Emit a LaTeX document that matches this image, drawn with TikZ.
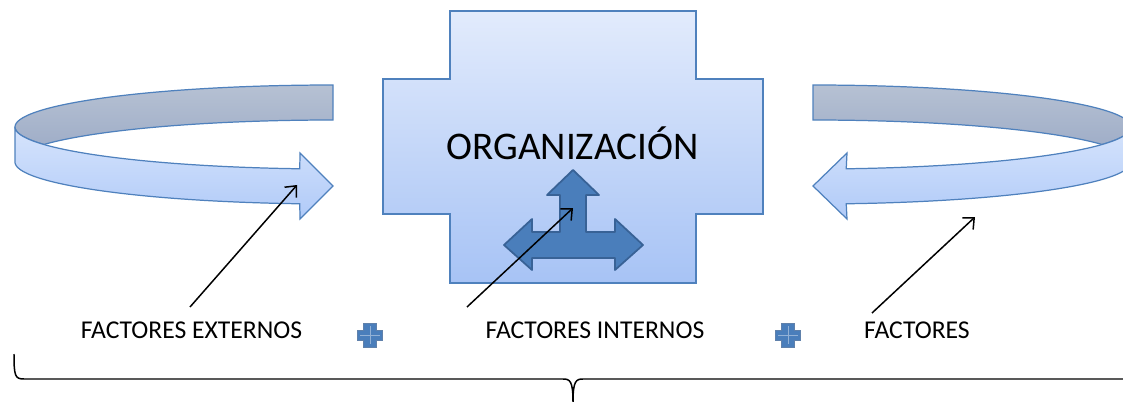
\documentclass[tikz,border=0pt]{standalone}
\usepackage{fontspec}
\setmainfont{Carlito}
\usetikzlibrary{arrows.meta}

\definecolor{edgeblue}{RGB}{79,129,189}
\definecolor{darkblue}{RGB}{56,98,150}
\definecolor{midblue}{RGB}{74,126,187}
\definecolor{frontTop}{RGB}{214,228,252}
\definecolor{frontBot}{RGB}{176,202,248}
\definecolor{backTop}{RGB}{182,193,211}
\definecolor{backBot}{RGB}{160,174,200}

\begin{document}
\begin{tikzpicture}[x=0.02cm,y=-0.02cm,
    bandfront/.style={draw=edgeblue,line width=0.7pt,top color=frontTop,bottom color=frontBot},
    bandback/.style={draw=edgeblue,line width=0.7pt,top color=backTop,bottom color=backBot},
    pointer/.style={line width=0.85pt,-{Straight Barb[length=5pt,width=9pt]}},
    label/.style={anchor=base,inner sep=0pt,font=\fontsize{14.6pt}{14.6pt}\selectfont}]
                  \useasboundingbox (0,0) rectangle (1123,402);
                  \clip (0,0) rectangle (1123,402);
                  % left circular arrow, back then front
                  \path [bandback] plot[domain=270:155.4,samples=60] ({333+318*cos(\x)},{127+42*sin(\x)})
                        -- plot[domain=204.6:270,samples=60] ({333+318*cos(\x)},{162+42*sin(\x)}) -- cycle;
                  \path [bandfront] plot[domain=180:96,samples=60] ({333+318*cos(\x)},{127+42*sin(\x)})
                        -- (300,153) -- (333,186) -- (300,219)
                        -- plot[domain=96:180,samples=60] ({333+318*cos(\x)},{162+42*sin(\x)}) -- cycle;
                  % right circular arrow, back then front
                  \path [bandback] plot[domain=270:384.6,samples=60] ({813+318*cos(\x)},{127+42*sin(\x)})
                        -- plot[domain=335.4:270,samples=60] ({813+318*cos(\x)},{162+42*sin(\x)}) -- cycle;
                  \path [bandfront] plot[domain=0:84,samples=60] ({813+318*cos(\x)},{127+42*sin(\x)})
                        -- (847,153) -- (813,186) -- (847,219)
                        -- plot[domain=84:0,samples=60] ({813+318*cos(\x)},{162+42*sin(\x)}) -- cycle;
                  % organization cross
                  \path [draw=edgeblue,line width=0.7pt,top color={rgb,255:red,226;green,235;blue,252},bottom color={rgb,255:red,167;green,195;blue,245}]
                        (450,11) -- (696,11) -- (696,79) -- (763,79) -- (763,214) -- (696,214) -- (696,283)
                        -- (450,283) -- (450,214) -- (383,214) -- (383,79) -- (450,79) -- cycle;
                  \node [anchor=base,inner sep=0pt,font=\fontsize{22.3pt}{22.3pt}\selectfont] (org) at (572.5,159) {ORGANIZACIÓN};
                  % three-way arrow
                  \filldraw [fill=midblue,draw=darkblue,line width=1pt,line join=round]
                        (573,170) -- (599,195) -- (586,195) -- (586,232) -- (615,232) -- (615,219) -- (643,245)
                        -- (615,270) -- (615,258) -- (532,258) -- (532,270) -- (504,245) -- (532,219)
                        -- (532,232) -- (560,232) -- (560,195) -- (547,195) -- cycle;
                  % labels
                  \node [label] (ext) at (191.5,338) {FACTORES EXTERNOS};
                  \node [label] (int) at (595,338) {FACTORES INTERNOS};
                  \node [label] (fac) at (917,338) {FACTORES};
                  % pointers
                  \coordinate (extFoot) at (190,307);
                  \coordinate (extTip) at (297,185);
                  \coordinate (intFoot) at (467,307);
                  \coordinate (intTip) at (573,208);
                  \coordinate (facFoot) at (872,313);
                  \coordinate (facTip) at (975,217);
                  \draw [pointer] (extFoot) -- (extTip);
                  \draw [pointer] (intFoot) -- (intTip);
                  \draw [pointer] (facFoot) -- (facTip);
                  % plus signs
                  \foreach \px in {370,788} {
                    \begin{scope}[shift={(\px,335)}]
                      \filldraw [fill=midblue,draw=darkblue!80,line width=0.5pt]
                            (-6.5,-12) -- (6.5,-12) -- (6.5,-5) -- (12.5,-5) -- (12.5,5) -- (6.5,5) -- (6.5,12)
                            -- (-6.5,12) -- (-6.5,5) -- (-12.5,5) -- (-12.5,-5) -- (-6.5,-5) -- cycle;
                      \draw [midblue!60!white,line width=0.4pt] (0,-9) -- (0,9) (-10,0) -- (10,0);
                    \end{scope}
                  }
                  % brace
                  \draw [line width=0.85pt] (14,354) .. controls (14,376) and (15,379) .. (24,379) -- (563,379)
                        .. controls (570,379) and (573,381) .. (573,402)
                        .. controls (573,381) and (576,379) .. (583,379) -- (1131,379);
\end{tikzpicture}
\end{document}
